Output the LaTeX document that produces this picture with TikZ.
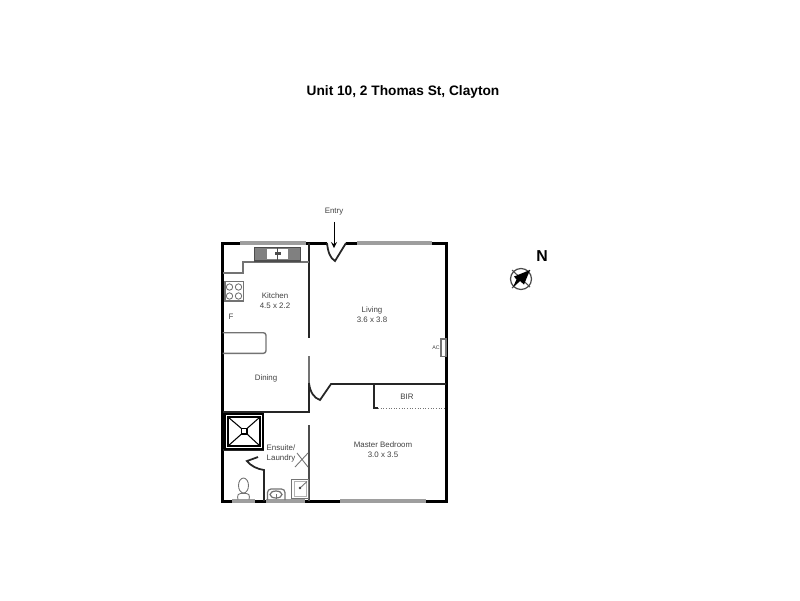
\documentclass[tikz,border=0pt]{standalone}
\usepackage{fontspec}
\setmainfont{Liberation Sans}
\tikzset{
    wall/.style={line width=1.7pt,black},
    inner wall/.style={line width=1pt,black!85},
    window/.style={line width=2pt,black!38},
    fitting/.style={line width=0.5pt,black!55},
    room/.style={font=\fontsize{4.5}{6}\selectfont,text=black!75,align=center}
}
\begin{document}
\begin{tikzpicture}[x=0.02cm,y=-0.02cm]
    \useasboundingbox (0,0) rectangle (800,600);

    \node[font=\fontsize{7.8}{9}\selectfont\bfseries] (title) at (403,92) {Unit 10, 2 Thomas St, Clayton};
    \node[font=\fontsize{9}{10}\selectfont\bfseries] (north) at (542,256) {N};

    \draw[wall] (240,243) -- (222.5,243) -- (222.5,501) -- (232,501);
    \draw[wall] (306,243) -- (327,243);
    \draw[wall] (346,243) -- (357,243);
    \draw[wall] (432,243) -- (446,243) -- (446,501) -- (426,501);
    \draw[wall] (255,501) -- (266,501);
    \draw[wall] (305,501) -- (340,501);
    \draw[window] (240,243) -- (306,243);
    \draw[window] (357,243) -- (432,243);
    \draw[window] (232,501) -- (255,501);
    \draw[window] (266,501) -- (305,501);
    \draw[window] (340,501) -- (426,501);

    \draw[inner wall] (327,243) .. controls (328,252) and (330,258) .. (335,261) -- (346,243);
    \draw[inner wall] (309,243) -- (309,338);
    \draw[fitting,line width=0.9pt] (309,356) -- (309,383);
    \draw[inner wall] (309,383) -- (309,412) -- (222.5,412);
    \draw[inner wall] (309,383) .. controls (310,392) and (314,398) .. (320,400) -- (331,384) -- (446,384);
    \draw[inner wall] (374,384) -- (374,408) -- (378,408);
    \draw[black!55,densely dotted,line width=0.5pt] (378,408) -- (446,408);

    \draw[inner wall,black!70] (309,425) -- (309,501);
    \draw[inner wall] (222.5,450) -- (264,450);
    \draw[inner wall] (258,457) -- (247,461) .. controls (251,466) and (257,469) .. (264,470) -- (264,501);

    \draw[line width=1.4pt] (225,414) rectangle (263,449);
    \draw[line width=0.6pt] (228,417) rectangle (260,446);
    \draw[line width=0.6pt] (241.5,428.5) rectangle (247,434);
    \draw[line width=0.6pt] (228,417) -- (241.5,428.5) (260,417) -- (247,428.5) (228,446) -- (241.5,434) (260,446) -- (247,434);

    \draw[fitting] (295,467) -- (308,453) (297,453) -- (308,467);
    \draw[fitting,line width=0.8pt] (291.7,479.3) rectangle (308.3,498.5);
    \draw[fitting,black!30] (294,481.5) rectangle (306,496);
    \draw[fitting] (300,488) -- (307,481.5);
    \fill[black!75] (300,488) circle (1.3);

    \draw[fitting,line width=0.7pt,rounded corners=2pt] (267.5,500) -- (267.5,489) -- (285,489) -- (285,500);
    \draw[fitting,line width=0.7pt] (276,494.5) ellipse (6 and 3.5);
    \draw[fitting] (276,494) -- (276,498.5);

    \draw[fitting,rounded corners=2pt] (238,499.5) -- (237,493.5) -- (250,493.5) -- (249,499.5);
    \draw[fitting] (243.5,485.5) ellipse (5 and 7.5);

    \draw[fitting,line width=0.7pt] (222.5,273) -- (243,273) -- (243,262) -- (309,262);
    \fill[black!50] (254.3,247.7) rectangle (300.7,261);
    \fill[white] (267.3,249.3) rectangle (288.3,259.3);
    \draw[black!70,line width=0.6pt] (254.3,247.7) rectangle (300.7,261);
    \draw[black!70,line width=0.6pt] (277.5,248) -- (277.5,260);
    \fill[black!70] (275,252) rectangle (281,255);

    \draw[fitting,line width=0.7pt] (225,281.7) rectangle (243.3,301);
    \foreach \cx in {229.5,238.5} {
        \foreach \cy in {287,296} {
            \draw[fitting] (\cx,\cy) circle (3.2);
        }
    }

    \draw[fitting,line width=0.8pt,rounded corners=1.5pt] (222.5,332.7) -- (266,332.7) -- (266,353.3) -- (222.5,353.3);
    \draw[fitting,line width=0.6pt] (441,339) rectangle (446,356.7);

    \node[room] (kitchen) at (275,300.5) {Kitchen\\4.5 x 2.2};
    \node[room] (fridge) at (231,316.5) {F};
    \node[room] (dining) at (266,378.5) {Dining};
    \node[room] (living) at (372,314.5) {Living\\3.6 x 3.8};
    \node[room,font=\fontsize{3}{4}\selectfont] (ac) at (436,348) {AC};
    \node[room] (bir) at (407,397) {BIR};
    \node[room] (master) at (383,449.5) {Master Bedroom\\3.0 x 3.5};
    \node[room] (ensuite) at (281,453.5) {Ensuite/\\Laundry};

    \node[room] (entry) at (334,212) {Entry};
    \coordinate (entrydoor) at (334,248);
    \draw[-stealth,line width=0.5pt] (entry) -- (entrydoor);

    \draw[black!70,line width=0.7pt] (521,279) circle (10.5);
    \draw[black!70,line width=0.6pt] (512,270) -- (530,287);
    \draw[black!70,line width=0.6pt] (512,288) -- (530,270);
    \fill (530,270) -- (524,284.5) -- (520,281) -- (513,287) -- (516.5,279.5) -- (514,276.5) -- cycle;
\end{tikzpicture}
\end{document}
